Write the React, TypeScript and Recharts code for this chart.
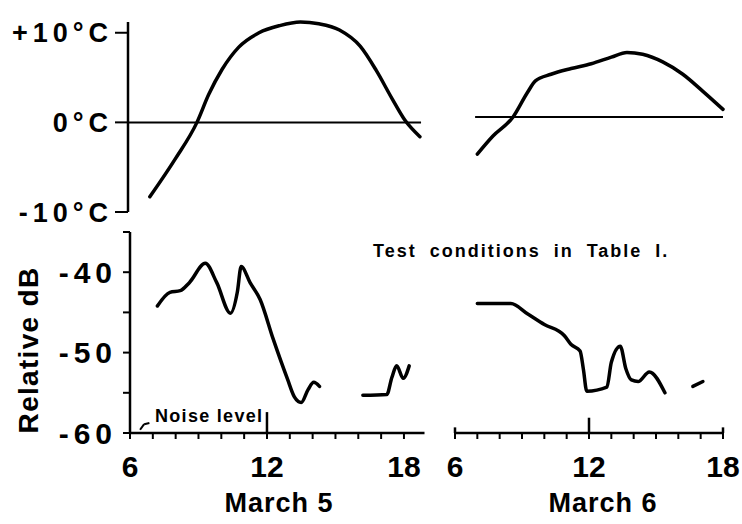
import React from 'react';
import { LineChart, Line, XAxis, YAxis, ReferenceLine, Label } from 'recharts';

const F = '"Liberation Sans", Arial, Helvetica, sans-serif';
const INK = '#000';

// ---- Temperature (°C) ----
const mar5TempHours = [6.95, 8.05, 9.0, 9.51, 10.09, 10.82, 11.7, 12.6, 13.5, 14.3, 15.2, 16.1, 16.8, 17.5, 18.06, 18.7];
const mar5Temp = [-8.3, -4.1, 0, 3.1, 5.9, 8.4, 10.0, 10.8, 11.2, 11.0, 10.3, 8.5, 5.8, 2.6, 0.2, -1.6];

const mar6TempHours = [7.0, 7.7, 8.6, 9.25, 9.6, 10.3, 11.2, 12.1, 13.0, 13.7, 14.4, 15.3, 16.2, 17.1, 18.0];
const mar6Temp = [-3.9, -2.0, 0, 2.6, 3.8, 4.5, 5.1, 5.6, 6.3, 6.8, 6.6, 5.8, 4.5, 2.7, 0.8];

// ---- Relative dB ----
const mar5DbHoursA = [7.2, 7.75, 8.2, 8.6, 9.3, 9.8, 10.4, 10.7, 10.87, 11.26, 11.7, 12.27, 12.9, 13.2, 13.5, 13.8, 14.05, 14.3];
const mar5DbA = [-44.2, -42.5, -42.3, -41.3, -38.9, -41.3, -45.1, -42.5, -39.3, -41.3, -43.4, -48.3, -53.3, -55.5, -56.2, -54.6, -53.7, -54.2];
const mar5DbHoursB = [16.2, 17.25, 17.47, 17.68, 17.97, 18.23];
const mar5DbB = [-55.3, -55.2, -53.1, -51.65, -53.2, -51.65];

const mar6DbHoursA = [7.0, 8.5, 9.26, 10.0, 10.9, 11.2, 11.6, 11.75, 11.9, 12.8, 13.0, 13.4, 13.65, 13.9, 14.2, 14.7, 15.4];
const mar6DbA = [-43.9, -43.9, -45.2, -46.5, -47.9, -49.0, -49.8, -52.1, -54.8, -54.3, -51.2, -49.2, -52.0, -53.4, -53.6, -52.4, -55.0];
const mar6DbHoursB = [16.65, 17.1];
const mar6DbB = [-54.2, -53.6];

// ---- Ticks ----
const tempTicks = [-10, 0, 10];
const tempTickLabels: Record<string, string> = { '-10': '-10°C', '0': '0°C', '10': '+10°C' };
const dbTicks = [-60, -55, -50, -45, -40, -35];
const dbTickLabels: Record<string, string> = { '-60': '-60', '-50': '-50', '-40': '-40' };
const hourTicks = [6, 7, 8, 9, 10, 11, 12, 13, 14, 15, 16, 17, 18];
const hourTickLabels: Record<string, string> = { '6': '6', '12': '12', '18': '18' };

const zip = (xs: number[], ys: number[]) => xs.map((h, i) => ({ h, v: ys[i] }));

const mar5TempData = zip(mar5TempHours, mar5Temp);
const mar6TempData = zip(mar6TempHours, mar6Temp);
const mar5DbDataA = zip(mar5DbHoursA, mar5DbA);
const mar5DbDataB = zip(mar5DbHoursB, mar5DbB);
const mar6DbDataA = zip(mar6DbHoursA, mar6DbA);
const mar6DbDataB = zip(mar6DbHoursB, mar6DbB);

const TempTick = (props: any) => {
  const { x, y, payload } = props;
  const s = tempTickLabels[String(payload.value)] || '';
  return (
    <text x={x} y={y} dy="0.36em" textAnchor="end" fontFamily={F} fontSize={27} fontWeight={700} letterSpacing={5} fill={INK}>
      {s}
    </text>
  );
};

const DbTick = (props: any) => {
  const { x, y, payload } = props;
  const s = dbTickLabels[String(payload.value)] || '';
  return (
    <text x={x} y={y} dy="0.36em" textAnchor="end" fontFamily={F} fontSize={30} fontWeight={700} letterSpacing={5} fill={INK}>
      {s}
    </text>
  );
};

const HourTick = (props: any) => {
  const { x, y, payload } = props;
  const s = hourTickLabels[String(payload.value)] || '';
  return (
    <text x={x} y={y + 38} textAnchor="middle" fontFamily={F} fontSize={30} fontWeight={700} fill={INK}>
      {s}
    </text>
  );
};

const axisStyle = { stroke: INK, strokeWidth: 2.5 };
const tickStyle = { stroke: INK, strokeWidth: 2 };
const curve = { stroke: INK, strokeWidth: 3.5, dot: false as const, isAnimationActive: false, strokeLinecap: 'round' as const, strokeLinejoin: 'round' as const };

export default function App() {
  return (
    <div style={{ position: 'absolute', left: 0, top: 0, width: 742, height: 524, background: '#fff', overflow: 'hidden' }}>
      {/* Top left: March 5 temperature */}
      <div style={{ position: 'absolute', left: 0, top: 0 }}>
        <LineChart width={430} height={232} margin={{ top: 22, right: 5.5, bottom: 20, left: 0 }}>
          <XAxis type="number" dataKey="h" domain={[6, 18.9]} hide />
          <YAxis type="number" domain={[-10, 10]} ticks={tempTicks} interval={0} width={128} tickSize={13} tickMargin={2}
            tick={TempTick} axisLine={axisStyle} tickLine={tickStyle} />
          <ReferenceLine segment={[{ x: 6, y: 0 }, { x: 18.75, y: 0 }]} stroke={INK} strokeWidth={2} ifOverflow="visible" />
          <Line data={mar5TempData} dataKey="v" type="monotone" {...curve} />
        </LineChart>
      </div>

      {/* Top right: March 6 temperature */}
      <div style={{ position: 'absolute', left: 440, top: 0 }}>
        <LineChart width={302} height={232} margin={{ top: 22, right: 19, bottom: 20, left: 15 }}>
          <XAxis type="number" dataKey="h" domain={[6, 18]} hide />
          <YAxis type="number" domain={[-10, 10]} hide />
          <ReferenceLine segment={[{ x: 6.9, y: 0 }, { x: 18.0, y: 0 }]} stroke={INK} strokeWidth={2} ifOverflow="visible" />
          <Line data={mar6TempData} dataKey="v" type="monotone" {...curve} />
        </LineChart>
      </div>

      {/* Bottom left: March 5 relative dB */}
      <div style={{ position: 'absolute', left: 0, top: 220 }}>
        <LineChart width={430} height={304} margin={{ top: 12, right: 5.5, bottom: 11, left: 0 }}>
          <XAxis type="number" dataKey="h" domain={[6, 18.9]} ticks={hourTicks} interval={0} height={80}
            tickSize={6} tickMargin={0} tick={HourTick} axisLine={axisStyle} tickLine={tickStyle}
            label={<Label content={() => (
              <text x={279} y={292} textAnchor="middle" fontFamily={F} fontSize={27} fontWeight={700} letterSpacing={1} fill={INK}>March 5</text>
            )} />} />
          <YAxis type="number" domain={[-60, -35]} ticks={dbTicks} interval={0} width={130} tickSize={7} tickMargin={6}
            tick={DbTick} axisLine={axisStyle} tickLine={tickStyle}
            label={<Label content={() => (
              <text x={38} y={130} transform="rotate(-90, 38, 130)" textAnchor="middle" fontFamily={F} fontSize={28} fontWeight={700} letterSpacing={1.3} fill={INK}>Relative dB</text>
            )} />} />
          <ReferenceLine segment={[{ x: 12, y: -60 }, { x: 12, y: -57.4 }]} stroke={INK} strokeWidth={2.5} />
          <ReferenceLine segment={[{ x: 6.44, y: -59.6 }, { x: 6.62, y: -58.9 }]} stroke={INK} strokeWidth={2} />
          <ReferenceLine segment={[{ x: 6.62, y: -58.9 }, { x: 6.85, y: -58.75 }]} stroke={INK} strokeWidth={2} />
          <Line data={mar5DbDataA} dataKey="v" type="monotone" {...curve} />
          <Line data={mar5DbDataB} dataKey="v" type="monotone" {...curve} />
        </LineChart>
      </div>

      {/* Bottom right: March 6 relative dB */}
      <div style={{ position: 'absolute', left: 440, top: 220 }}>
        <LineChart width={302} height={304} margin={{ top: 12, right: 19, bottom: 11, left: 15 }}>
          <XAxis type="number" dataKey="h" domain={[6, 18]} ticks={hourTicks} interval={0} height={80}
            tickSize={6} tickMargin={0} tick={HourTick} axisLine={axisStyle} tickLine={tickStyle}
            label={<Label content={() => (
              <text x={163} y={292} textAnchor="middle" fontFamily={F} fontSize={27} fontWeight={700} letterSpacing={1} fill={INK}>March 6</text>
            )} />} />
          <YAxis type="number" domain={[-60, -35]} hide />
          <ReferenceLine segment={[{ x: 12, y: -60 }, { x: 12, y: -58.1 }]} stroke={INK} strokeWidth={2.5} />
          <ReferenceLine segment={[{ x: 6, y: -60 }, { x: 6, y: -59.3 }]} stroke={INK} strokeWidth={2.5} />
          <ReferenceLine segment={[{ x: 18, y: -60 }, { x: 18, y: -59.3 }]} stroke={INK} strokeWidth={2.5} />
          <Line data={mar6DbDataA} dataKey="v" type="monotone" {...curve} />
          <Line data={mar6DbDataB} dataKey="v" type="monotone" {...curve} />
        </LineChart>
      </div>

      {/* Annotations */}
      <div style={{ position: 'absolute', left: 373, top: 241.8, fontFamily: F, fontSize: 18, lineHeight: '18px', fontWeight: 700, letterSpacing: 2, wordSpacing: 6, color: INK, whiteSpace: 'nowrap' }}>
        Test conditions in Table I.
      </div>
      <div style={{ position: 'absolute', left: 155, top: 406.7, fontFamily: F, fontSize: 18, lineHeight: '18px', fontWeight: 700, letterSpacing: 1.3, color: INK, whiteSpace: 'nowrap' }}>
        Noise level
      </div>
    </div>
  );
}
